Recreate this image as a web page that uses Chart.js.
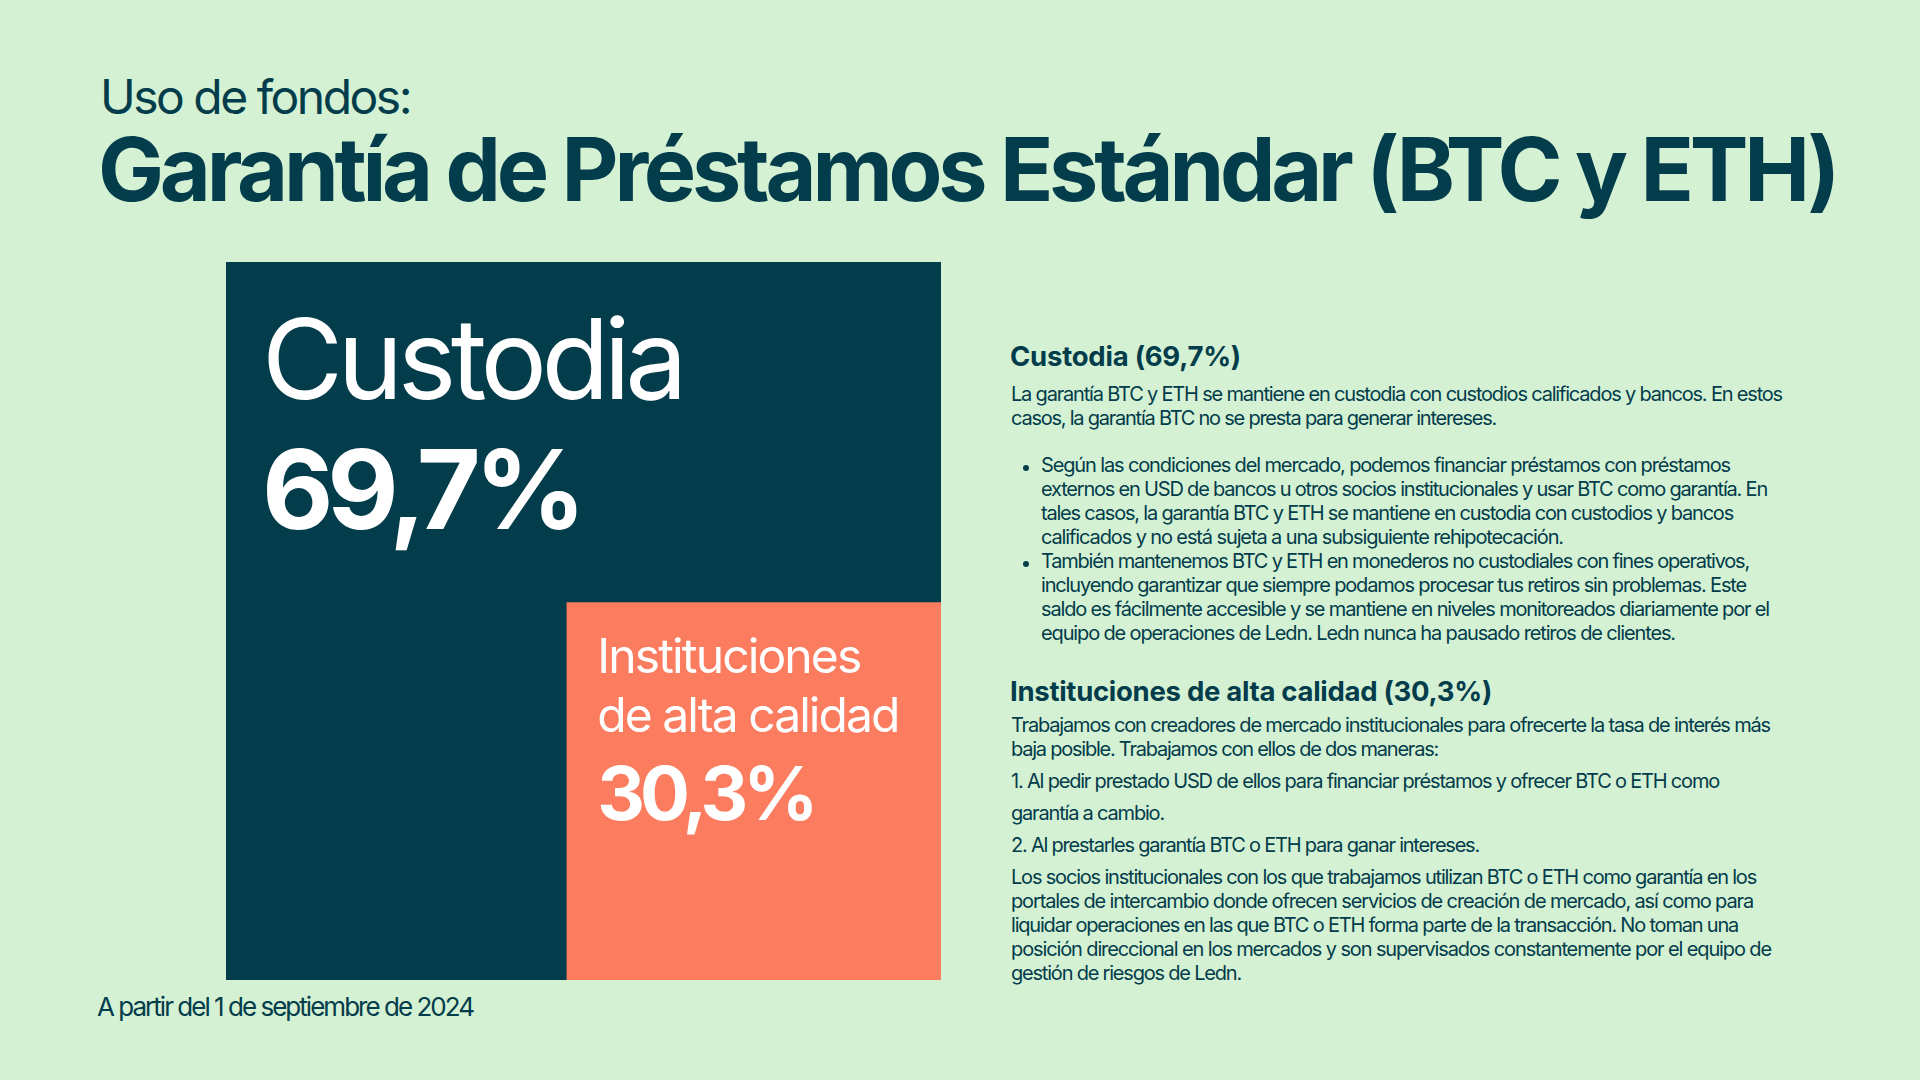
<!DOCTYPE html>
<html lang="es">
<head>
<meta charset="utf-8">
<title>Uso de fondos: Garantía de Préstamos Estándar (BTC y ETH)</title>
<script src="https://cdn.jsdelivr.net/npm/chart.js@4.4.1/dist/chart.umd.min.js"></script>
<style>
  html, body {
    margin: 0;
    padding: 0;
  }
  body {
    width: 1920px;
    height: 1080px;
    position: relative;
    overflow: hidden;
    background: #d4f1d4;
    color: #033c4a;
    font-family: Inter, 'Noto Sans', sans-serif;
  }
  .ln {
    position: absolute;
    white-space: nowrap;
    line-height: 1;
    display: inline-block;
  }
  .body { font-size: 20px; }
  .p { left: 1011px; }
  .b { left: 1041px; }
  .h { left: 1010px; font-size: 27.5px; font-weight: 700; }
  .dot {
    position: absolute;
    left: 1022.5px;
    width: 6px;
    height: 6px;
    border-radius: 50%;
    background: #033c4a;
  }
  #chart-box {
    position: absolute;
    left: 226px;
    top: 262px;
    width: 715px;
    height: 718px;
  }
</style>
</head>
<body>

<div class="ln" style="left:100px; top:72.5px; font-size:48px; font-weight:400;" data-w="310">Uso de fondos:</div>
<div class="ln" style="left:98px; top:125px; font-size:88px; font-weight:700;" data-w="1735">Garantía de Préstamos Estándar (BTC y ETH)</div>

<div id="chart-box"><canvas id="my-chart"></canvas></div>

<div class="ln" style="left:97px; top:993.5px; font-size:26px;" data-w="376">A partir del 1 de septiembre de 2024</div>

<!-- right panel -->
<div class="ln h" id="head-0" style="top:342.9px;" data-w="231"></div>
<div class="ln body p" style="top:383.7px;" data-w="771">La garantía BTC y ETH se mantiene en custodia con custodios calificados y bancos. En estos</div>
<div class="ln body p" style="top:407.7px;" data-w="485">casos, la garantía BTC no se presta para generar intereses.</div>

<div class="dot" style="top:464.7px;"></div>
<div class="ln body b" style="top:455.4px;" data-w="689">Según las condiciones del mercado, podemos financiar préstamos con préstamos</div>
<div class="ln body b" style="top:479.4px;" data-w="726">externos en USD de bancos u otros socios institucionales y usar BTC como garantía. En</div>
<div class="ln body b" style="top:503.4px;" data-w="692">tales casos, la garantía BTC y ETH se mantiene en custodia con custodios y bancos</div>
<div class="ln body b" style="top:527.4px;" data-w="522">calificados y no está sujeta a una subsiguiente rehipotecación.</div>
<div class="dot" style="top:560.7px;"></div>
<div class="ln body b" style="top:551.4px;" data-w="708">También mantenemos BTC y ETH en monederos no custodiales con fines operativos,</div>
<div class="ln body b" style="top:575.4px;" data-w="705">incluyendo garantizar que siempre podamos procesar tus retiros sin problemas. Este</div>
<div class="ln body b" style="top:599.4px;" data-w="728">saldo es fácilmente accesible y se mantiene en niveles monitoreados diariamente por el</div>
<div class="ln body b" style="top:623.4px;" data-w="634">equipo de operaciones de Ledn. Ledn nunca ha pausado retiros de clientes.</div>

<div class="ln h" id="head-1" style="top:677.9px;" data-w="482"></div>
<div class="ln body p" style="top:715.4px;" data-w="759">Trabajamos con creadores de mercado institucionales para ofrecerte la tasa de interés más</div>
<div class="ln body p" style="top:739.4px;" data-w="427">baja posible. Trabajamos con ellos de dos maneras:</div>
<div class="ln body p" style="top:770.7px;" data-w="708">1. Al pedir prestado USD de ellos para financiar préstamos y ofrecer BTC o ETH como</div>
<div class="ln body p" style="top:802.7px;" data-w="153">garantía a cambio.</div>
<div class="ln body p" style="top:835.4px;" data-w="468">2. Al prestarles garantía BTC o ETH para ganar intereses.</div>
<div class="ln body p" style="top:866.7px;" data-w="745">Los socios institucionales con los que trabajamos utilizan BTC o ETH como garantía en los</div>
<div class="ln body p" style="top:890.7px;" data-w="742">portales de intercambio donde ofrecen servicios de creación de mercado, así como para</div>
<div class="ln body p" style="top:914.7px;" data-w="727">liquidar operaciones en las que BTC o ETH forma parte de la transacción. No toman una</div>
<div class="ln body p" style="top:938.7px;" data-w="760">posición direccional en los mercados y son supervisados constantemente por el equipo de</div>
<div class="ln body p" style="top:962.7px;" data-w="230">gestión de riesgos de Ledn.</div>

<script>
'use strict';

// ******** DATA **************
let categories = ['Custodia', 'Instituciones de alta calidad'];
let shares = [69.7, 30.3];

// tile extents, in % of the whole block
let tileLeft = [0, 47.6];
let tileRight = [100, 100];
let tileTop = [100, 52.6];

let tileColors = ['#033c4a', '#fb7c5f'];

// ********* HELPERS ****************
function fmtShare(v) {
  return v.toFixed(1).replace('.', ',') + '%';
}

// headings of the right panel come from the same data
for (let i = 0; i < categories.length; i++) {
  document.getElementById('head-' + i).textContent = `${categories[i]} (${fmtShare(shares[i])})`;
}

// squeeze letter spacing so each line keeps the width it has in the picture
function fitLines() {
  let lines = document.querySelectorAll('.ln[data-w]');
  for (let i = 0; i < lines.length; i++) {
    let el = lines[i];
    el.style.letterSpacing = '0px';
    let natural = el.getBoundingClientRect().width;
    let target = parseFloat(el.dataset.w);
    let n = el.textContent.length;
    el.style.letterSpacing = ((target - natural) / n).toFixed(3) + 'px';
  }
}

// ********* TILE LABELS (plugin) *************
// label lines per tile, and where they sit inside the tile
let labelLines = [['Custodia'], ['Instituciones', 'de alta calidad']];
let labelStyle = [
  { dx: 36, name: { size: 111, weight: 400, base: [137], w: [420] }, pct: { size: 110, weight: 700, base: 266.6, w: 318 } },
  { dx: 31, name: { size: 48, weight: 400, base: [70.7, 129.7], w: [263, 301] }, pct: { size: 74, weight: 700, base: 218, w: 216 } }
];

function drawFitted(ctx, text, x, y, width) {
  if ('letterSpacing' in ctx) {
    ctx.letterSpacing = '0px';
    let natural = ctx.measureText(text).width;
    ctx.letterSpacing = ((width - natural) / text.length).toFixed(3) + 'px';
  }
  ctx.fillText(text, x, y);
  if ('letterSpacing' in ctx) {
    ctx.letterSpacing = '0px';
  }
}

let tileLabels = {
  id: 'tileLabels',
  afterDatasetsDraw(chart) {
    let ctx = chart.ctx;
    let xs = chart.scales.x;
    let ys = chart.scales.y;
    ctx.save();
    ctx.fillStyle = '#ffffff';
    ctx.textBaseline = 'alphabetic';
    ctx.textAlign = 'left';
    for (let i = 0; i < categories.length; i++) {
      let left = xs.getPixelForValue(tileLeft[i]);
      let top = ys.getPixelForValue(tileTop[i]);
      let st = labelStyle[i];
      ctx.font = `${st.name.weight} ${st.name.size}px Inter, 'Noto Sans', sans-serif`;
      for (let j = 0; j < labelLines[i].length; j++) {
        drawFitted(ctx, labelLines[i][j], left + st.dx, top + st.name.base[j], st.name.w[j]);
      }
      ctx.font = `${st.pct.weight} ${st.pct.size}px Inter, 'Noto Sans', sans-serif`;
      drawFitted(ctx, fmtShare(shares[i]), left + st.dx, top + st.pct.base, st.pct.w);
    }
    ctx.restore();
  }
};

// ************** CHART ************************
let canvasElem = document.getElementById('my-chart');

function renderChart() {
  let datasets = [];
  for (let i = 0; i < categories.length; i++) {
    datasets.push({
      label: categories[i],
      data: [
        { x: tileLeft[i], y: tileTop[i] },
        { x: tileRight[i], y: tileTop[i] }
      ],
      fill: 'origin',
      backgroundColor: tileColors[i],
      borderColor: tileColors[i],
      borderWidth: 0,
      pointRadius: 0,
      tension: 0,
      // later tiles sit on top of earlier ones
      order: categories.length - i
    });
  }

  let config = {
    type: 'line',
    data: { datasets: datasets },
    options: {
      responsive: true,
      maintainAspectRatio: false,
      animation: false,
      layout: { padding: 0 },
      plugins: {
        legend: { display: false },
        tooltip: { enabled: false }
      },
      scales: {
        x: { type: 'linear', min: 0, max: 100, display: false },
        y: { type: 'linear', min: 0, max: 100, display: false }
      }
    },
    plugins: [tileLabels]
  };

  new Chart(canvasElem, config);
}

fitLines();
renderChart();
if (document.fonts && document.fonts.ready) {
  document.fonts.ready.then(fitLines);
}
</script>
</body>
</html>
